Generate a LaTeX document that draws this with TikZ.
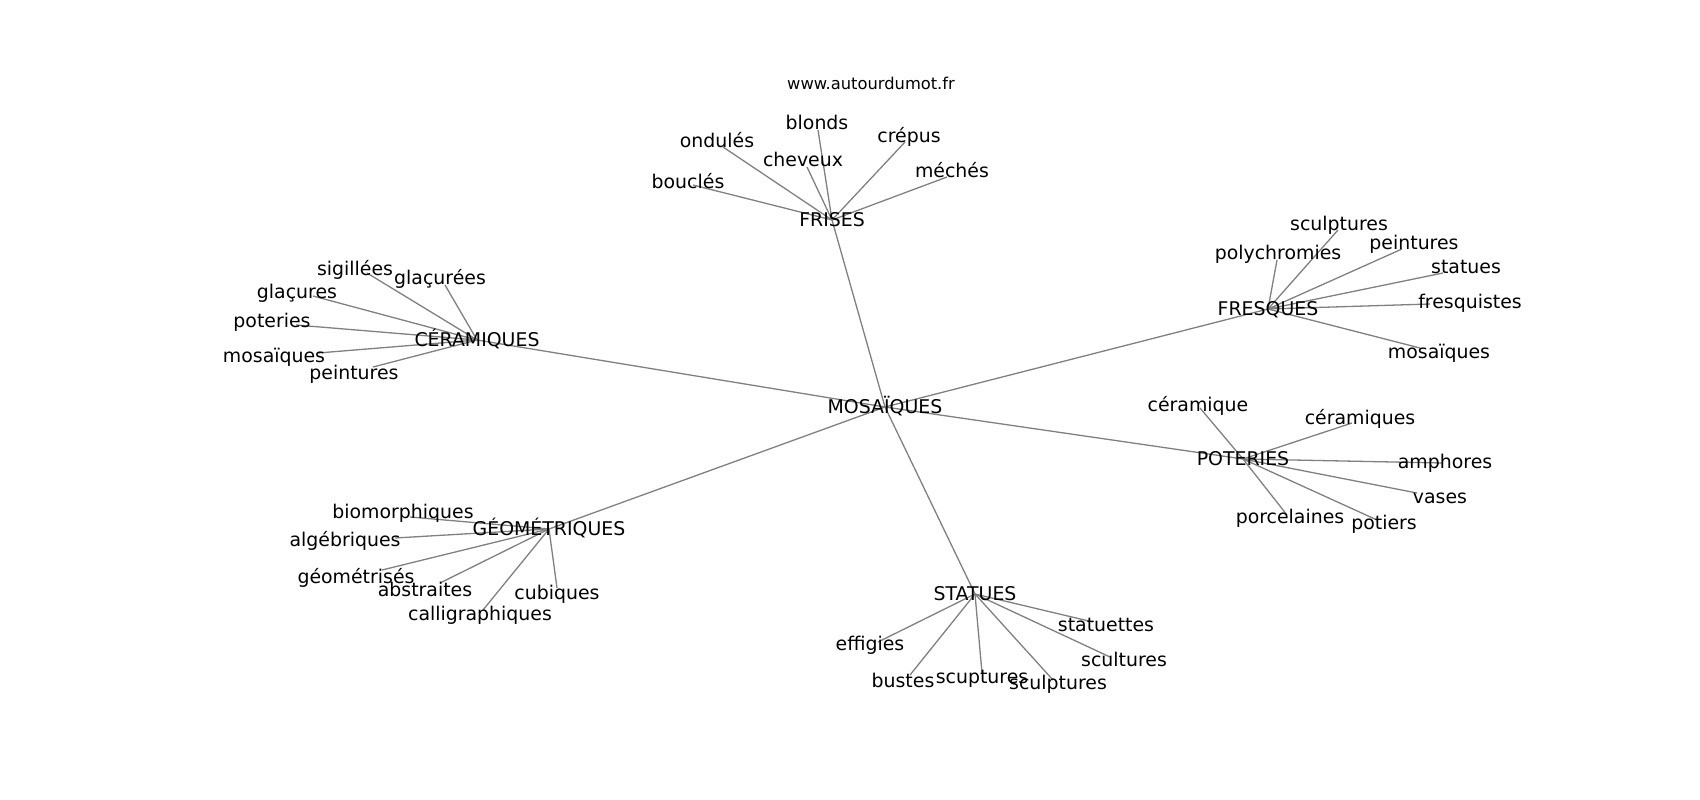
\documentclass[tikz,border=0pt]{standalone}
\usepackage{fontspec}
\setmainfont{DejaVu Sans}
\usetikzlibrary{backgrounds}
\begin{document}
\begin{tikzpicture}[x=1pt,y=-1pt,
    mot/.style={inner sep=0pt,text height=13.7pt,text depth=0pt,font=\fontsize{18.9}{22}\selectfont},
    lien/.style={draw=gray,line width=1.3pt}]
    \useasboundingbox (0,0) rectangle (1700,800);
    \node[inner sep=0pt,font=\fontsize{16.3}{19}\selectfont] (site) at (871,83) {www.autourdumot.fr};
    % centre et themes
    \node[mot] (mos) at (885,407) {MOSAÏQUES};
    \node[mot] (fri) at (832,220) {FRISES};
    \node[mot] (cer) at (477,340) {CÉRAMIQUES};
    \node[mot] (fre) at (1268,309) {FRESQUES};
    \node[mot] (pot) at (1243,459) {POTERIES};
    \node[mot] (geo) at (549,529) {GÉOMÉTRIQUES};
    \node[mot] (sta) at (975,594) {STATUES};
    \begin{scope}[on background layer]
        \foreach \h in {fri,cer,fre,pot,geo,sta} \draw[lien] (mos.center) -- (\h.center);
    \end{scope}
    % mots lies
    \foreach \n/\tx/\ty/\px/\py/\t in {bou/688/182/693/185/bouclés, ond/717/141/723/147/ondulés,
        chv/803/160/807/167/cheveux, blo/817/123/818/130/blonds, cre/909/136/905/142/crépus,
        mec/952/171/947/177/méchés} {
        \node[mot] (\n) at (\tx,\ty) {\t};
        \coordinate (\n-p) at (\px,\py);
        \begin{scope}[on background layer] \draw[lien] (fri.center) -- (\n-p); \end{scope}
    }
    \foreach \n/\tx/\ty/\px/\py/\t in {sig/355/269/367/273/sigillées, glr/440/278/445/285/glaçurées,
        gla/297/292/313/296/glaçures, ptr/272/321/296/325/poteries, mo1/274/356/318/353/mosaïques,
        pe1/354/373/373/367/peintures} {
        \node[mot] (\n) at (\tx,\ty) {\t};
        \coordinate (\n-p) at (\px,\py);
        \begin{scope}[on background layer] \draw[lien] (cer.center) -- (\n-p); \end{scope}
    }
    \foreach \n/\tx/\ty/\px/\py/\t in {pol/1278/253/1277/260/polychromies, sc1/1339/224/1338/230/sculptures,
        pe2/1414/243/1402/249/peintures, stt/1466/267/1443/273/statues, frq/1470/302/1430/304/fresquistes,
        mo2/1439/352/1420/348/mosaïques} {
        \node[mot] (\n) at (\tx,\ty) {\t};
        \coordinate (\n-p) at (\px,\py);
        \begin{scope}[on background layer] \draw[lien] (fre.center) -- (\n-p); \end{scope}
    }
    \foreach \n/\tx/\ty/\px/\py/\t in {cr1/1198/405/1200/408/céramique, cr2/1360/418/1352/423/céramiques,
        amp/1445/462/1443/463/amphores, vas/1440/497/1417/493/vases, por/1290/517/1287/515/porcelaines,
        ptt/1384/523/1377/520/potiers} {
        \node[mot] (\n) at (\tx,\ty) {\t};
        \coordinate (\n-p) at (\px,\py);
        \begin{scope}[on background layer] \draw[lien] (pot.center) -- (\n-p); \end{scope}
    }
    \foreach \n/\tx/\ty/\px/\py/\t in {bio/403/512/410/517/biomorphiques, alg/345/540/395/538/algébriques,
        gms/356/577/382/570/géométrisés, abs/425/590/440/583/abstraites, cub/557/593/557/588/cubiques,
        cal/480/614/483/610/calligraphiques} {
        \node[mot] (\n) at (\tx,\ty) {\t};
        \coordinate (\n-p) at (\px,\py);
        \begin{scope}[on background layer] \draw[lien] (geo.center) -- (\n-p); \end{scope}
    }
    \foreach \n/\tx/\ty/\px/\py/\t in {stu/1106/625/1093/622/statuettes, eff/870/644/878/642/effigies,
        bus/903/681/910/675/bustes, scp/982/677/982/673/scuptures, sc2/1058/683/1053/680/sculptures,
        scl/1124/660/1110/657/scultures} {
        \node[mot] (\n) at (\tx,\ty) {\t};
        \coordinate (\n-p) at (\px,\py);
        \begin{scope}[on background layer] \draw[lien] (sta.center) -- (\n-p); \end{scope}
    }
\end{tikzpicture}
\end{document}
